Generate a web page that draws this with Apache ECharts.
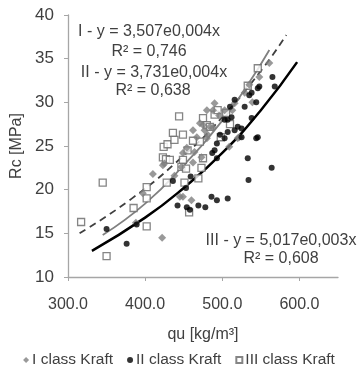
<!DOCTYPE html>
<html><head><meta charset="utf-8">
<script src="https://cdn.jsdelivr.net/npm/echarts@6/dist/echarts.min.js"></script>
<style>html,body{margin:0;padding:0;background:#fff}#c{width:358px;height:369px}</style>
</head><body><div id="c"></div>
<script>
// Data: [qu, Rc]
const classI = [[388,16.2],[397,19.6],[410,21.8],[422,14.5],[423,22.8],[425,23.0],[438,21.6],[445,19.2],[447,22.6],[449,24.2],[449,19.2],[454,24.8],[460,18.8],[462,23.1],[462,26.8],[464,24.3],[467,26.0],[471,27.6],[473,23.7],[475,27.4],[477,26.8],[480,29.1],[480,25.9],[481,26.3],[484,27.2],[488,27.1],[488,29.1],[490,29.9],[496,28.5],[503,29.1],[509,24.9],[513,29.1],[516,29.9],[520,25.9],[522,26.0],[529,31.1],[535,32.0],[539,30.0],[548,32.9],[561,34.5]];
const classII = [[350,15.5],[376,13.8],[389,16.0],[436,21.0],[442,18.2],[453,20.2],[454,18.0],[459,21.5],[458,17.7],[469,18.2],[478,18.0],[486,19.2],[493,18.8],[507,19.0],[487,24.2],[490,24.5],[493,23.6],[493,25.3],[497,26.3],[503,25.9],[503,28.0],[507,26.6],[507,28.0],[510,29.5],[512,28.3],[516,26.8],[516,30.3],[520,27.2],[525,26.0],[525,27.0],[529,29.5],[533,23.6],[534,21.1],[535,30.8],[538,28.2],[538,31.1],[544,30.0],[546,31.6],[544,25.9],[546,26.0],[548,31.8],[564,22.5],[565,32.9],[568,31.8]];
const classIII = [[317,16.3],[345,20.8],[350,12.4],[385,17.9],[402,20.3],[402,19.0],[402,15.8],[428,20.8],[423,23.7],[427,23.5],[432,23.4],[424,24.9],[429,25.2],[436,26.5],[438,25.7],[444,28.4],[449,26.3],[449,23.4],[447,22.6],[453,22.4],[451,20.8],[455,24.5],[457,17.4],[462,25.6],[469,21.3],[471,25.5],[473,22.5],[475,23.6],[475,28.2],[480,27.4],[484,27.2],[490,28.6],[494,29.1],[505,28.8],[498,26.0],[510,27.5],[533,31.9],[546,33.9]];
// Trend curves, points
const trendI = [[345,14.8],[400,18.4],[450,22.8],[500,27.9],[530,31.6],[561,36.0]];
const trendII = [[331,13.0],[400,16.8],[450,20.2],[500,24.2],[550,29.1],[597,34.6]];
const trendIII = [[315,15.0],[383,19.0],[450,23.9],[500,28.3],[550,33.6],[583,37.7]];
const xTicks = [300,400,500,600];
const names = ['I class Kraft','II class Kraft','III class Kraft'];
const equations = [
  ['I - y = 3,507e0,004x','R² = 0,746'],
  ['II - y = 3,731e0,004x','R² = 0,638'],
  ['III - y = 5,017e0,003x','R² = 0,608']
];

const FONT = 'Liberation Sans, Arial, sans-serif';
const TXT = '#404040';
const FS = 16;
const chart = echarts.init(document.getElementById('c'));
const eqText = (x,y,t)=>({type:'text',x:x,y:y,style:{text:t,textAlign:'center',fill:TXT,font:FS+'px '+FONT}});
chart.setOption({
  animation:false,
  textStyle:{fontFamily:FONT},
  grid:{left:68,right:20,top:15,bottom:92},
  xAxis:{type:'value',min:300,max:650,interval:100,
    name:'qu [kg/m³]',nameLocation:'middle',nameGap:50,
    nameTextStyle:{color:TXT,fontSize:FS,fontFamily:FONT},
    axisLine:{lineStyle:{color:'#a6a6a6',width:1.3}},
    axisTick:{show:true,length:4,customValues:xTicks,lineStyle:{color:'#a6a6a6'}},
    axisLabel:{customValues:xTicks,formatter:v=>v.toFixed(1),color:TXT,fontSize:FS,margin:20,fontFamily:FONT},
    splitLine:{show:false}},
  yAxis:{type:'value',min:10,max:40,interval:5,
    name:'Rc [MPa]',nameLocation:'middle',nameGap:36,nameRotate:90,
    nameTextStyle:{color:TXT,fontSize:FS,fontFamily:FONT},
    axisLine:{show:true,lineStyle:{color:'#a6a6a6',width:1.3}},
    axisTick:{show:true,length:4,lineStyle:{color:'#a6a6a6'}},
    axisLabel:{color:TXT,fontSize:FS+1,margin:14,fontFamily:FONT},
    splitLine:{show:false}},
  legend:{data:names,bottom:1,left:'center',padding:0,itemWidth:6,itemHeight:6,itemGap:14,
    textStyle:{color:TXT,fontSize:FS-0.5,fontFamily:FONT,padding:[0,0,0,-2]}},
  graphic:[
    eqText(149,24,equations[0][0]),
    eqText(149,44,equations[0][1]),
    eqText(154,65,equations[1][0]),
    eqText(153,83,equations[1][1]),
    eqText(281,233,equations[2][0]),
    eqText(281,251,equations[2][1])
  ],
  series:[
    {name:'trendIII',type:'line',data:trendIII,smooth:true,showSymbol:false,silent:true,z:1,
      lineStyle:{color:'#404040',width:1.8,type:[7,5]}},
    {name:'trendI',type:'line',data:trendI,smooth:true,showSymbol:false,silent:true,z:1,
      lineStyle:{color:'#808080',width:1.8}},
    {name:'trendII',type:'line',data:trendII,smooth:true,showSymbol:false,silent:true,z:1,
      lineStyle:{color:'#000000',width:2.5}},
    {name:names[2],type:'scatter',data:classIII,symbol:'rect',symbolSize:7,z:2,
      itemStyle:{color:'#ffffff',borderColor:'#666666',borderWidth:1.3}},
    {name:names[0],type:'scatter',data:classI,symbol:'diamond',symbolSize:8,z:3,
      itemStyle:{color:'#808080'}},
    {name:names[1],type:'scatter',data:classII,symbol:'circle',symbolSize:6,z:4,
      itemStyle:{color:'#000000'}}
  ]
});
</script></body></html>
